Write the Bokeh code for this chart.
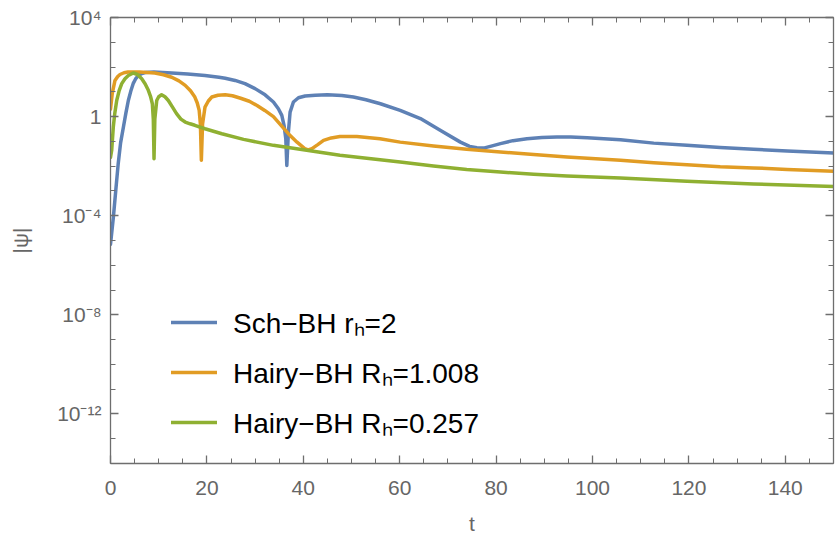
import numpy as np
from bokeh.plotting import figure
from bokeh.models import (Range1d, FixedTicker, LinearAxis, LogAxis, Legend,
                          LegendItem, CustomJSTickFormatter)
from bokeh.embed import file_html
from bokeh.resources import INLINE

# ---------------- data ----------------
series_labels = ["Sch\u2212BH r\u2095=2", "Hairy\u2212BH R\u2095=1.008", "Hairy\u2212BH R\u2095=0.257"]
series_colors = ["#5E81B5", "#E19C24", "#8FB032"]

sch_t = [0.0, 0.6, 1.1, 1.6, 2.1, 2.7, 3.2, 3.7, 4.2, 4.7, 5.2, 5.8, 6.5, 7.2, 9.0,
         12.7, 16.0, 19.6, 22.5, 23.8, 25.85, 27.9, 30.0, 32.07, 33.8, 34.83, 35.54,
         36.0, 36.37, 36.58, 36.91, 37.26, 37.95, 38.99, 40.38, 42.5, 45.0, 48.0,
         50.4, 53.0, 56.0, 60.1, 64.3, 68.4, 72.6, 74.5, 76.0, 77.4, 79.0, 80.9,
         83.5, 86.4, 89.5, 92.6, 95.5, 98.9, 105.8, 112.7, 119.6, 126.5, 133.4,
         140.4, 150.0]
sch_log10_psi = [-5.15, -4.05, -2.97, -1.90, -1.05, -0.40, 0.15, 0.65, 1.02, 1.33,
                 1.52, 1.66, 1.74, 1.78, 1.80, 1.76, 1.72, 1.66, 1.59, 1.55, 1.46,
                 1.33, 1.13, 0.88, 0.59, 0.32, 0.05, -0.35, -0.89, -1.97, -0.62, 0.18,
                 0.59, 0.76, 0.83, 0.86, 0.88, 0.85, 0.79, 0.68, 0.52, 0.25, -0.08,
                 -0.55, -1.03, -1.20, -1.26, -1.27, -1.19, -1.09, -0.97, -0.89, -0.84,
                 -0.82, -0.82, -0.85, -0.93, -1.07, -1.16, -1.25, -1.32, -1.39, -1.47]

hairy1_t = [0.0, 0.37, 0.93, 1.5, 1.97, 2.8, 3.63, 6.0, 9.2, 11.0, 12.7, 14.2, 15.5,
            16.6, 17.5, 18.0, 18.4, 18.65, 18.85, 19.1, 19.6, 20.3, 21.0, 22.3, 23.8,
            25.3, 27.0, 28.8, 30.4, 32.0, 33.8, 34.8, 36.9, 38.7, 40.3, 41.0, 41.8,
            43.0, 44.2, 45.8, 47.6, 51.1, 55.9, 60.1, 67.0, 73.9, 80.9, 87.8, 94.7,
            105.8, 112.7, 119.6, 126.5, 133.4, 140.4, 150.0]
hairy1_log10_psi = [0.3, 0.94, 1.46, 1.62, 1.70, 1.77, 1.80, 1.80, 1.76, 1.69, 1.59,
                    1.44, 1.26, 1.04, 0.79, 0.55, 0.25, -0.3, -1.76, -0.3, 0.38, 0.63,
                    0.79, 0.86, 0.88, 0.84, 0.74, 0.62, 0.45, 0.25, 0.0, -0.22, -0.69,
                    -1.03, -1.29, -1.34, -1.29, -1.13, -0.96, -0.86, -0.80, -0.80, -0.89,
                    -1.03, -1.19, -1.32, -1.43, -1.53, -1.63, -1.76, -1.86, -1.94, -2.02,
                    -2.07, -2.13, -2.21]

hairy2_t = [0.0, 0.25, 0.58, 0.9, 1.29, 1.8, 2.33, 3.0, 3.7, 4.73, 5.6, 6.48, 7.2,
            7.85, 8.3, 8.68, 8.88, 9.03, 9.2, 9.59, 10.0, 10.6, 11.3, 12.0, 12.8,
            13.7, 14.6, 15.5, 16.5, 17.5, 19.6, 23.1, 27.6, 33.8, 40.7, 47.6, 60.1,
            67.0, 73.9, 80.9, 87.8, 94.7, 105.8, 119.6, 133.4, 150.0]
hairy2_log10_psi = [-1.65, -1.36, -0.42, 0.15, 0.65, 1.05, 1.33, 1.53, 1.66, 1.76,
                    1.70, 1.53, 1.32, 1.06, 0.82, 0.52, -0.1, -1.70, -0.1, 0.65, 0.80,
                    0.88, 0.80, 0.65, 0.40, 0.12, -0.10, -0.22, -0.29, -0.35, -0.49,
                    -0.69, -0.92, -1.16, -1.36, -1.56, -1.83, -1.99, -2.13, -2.24,
                    -2.33, -2.40, -2.48, -2.61, -2.72, -2.82]

x_major_ticks = [0, 20, 40, 60, 80, 100, 120, 140]
x_minor_ticks = list(range(0, 151, 5))
y_major_ticks = [1e-12, 1e-8, 1e-4, 1.0, 1e4]
y_minor_ticks = [10.0 ** k for k in range(-14, 5)]

# ---------------- figure ----------------
AX = "#6e6e6e"
FONT = "Liberation Sans"

p = figure(width=840, height=537, x_range=Range1d(0, 150), y_range=Range1d(1e-14, 1e4),
           y_axis_type="log", output_backend="svg", toolbar_location=None,
           min_border_left=110, min_border_right=7, min_border_top=17, min_border_bottom=73)
p.grid.visible = False
p.outline_line_color = None
p.background_fill_color = "white"
p.border_fill_color = "white"

xticker = FixedTicker(ticks=x_major_ticks, minor_ticks=x_minor_ticks)
yticker = FixedTicker(ticks=y_major_ticks, minor_ticks=y_minor_ticks)

sup_formatter = CustomJSTickFormatter(code="""
const e = Math.round(Math.log10(tick));
if (e == 0) { return "1"; }
const sup = {"-":"\u207b","0":"\u2070","1":"\u00b9","2":"\u00b2","3":"\u00b3","4":"\u2074",
             "5":"\u2075","6":"\u2076","7":"\u2077","8":"\u2078","9":"\u2079"};
return "10" + String(e).split("").map(c => sup[c]).join("");
""")
blank_formatter = CustomJSTickFormatter(code='return "";')

def style(ax, labels=True):
    ax.axis_line_color = AX
    ax.axis_line_width = 1.3
    ax.major_tick_line_color = AX
    ax.minor_tick_line_color = AX
    ax.major_tick_line_width = 1.3
    ax.minor_tick_line_width = 1.0
    ax.major_tick_in = 8
    ax.major_tick_out = 0
    ax.minor_tick_in = 5
    ax.minor_tick_out = 0
    if labels:
        ax.major_label_text_font = FONT
        ax.major_label_text_font_size = "21px"
        ax.major_label_text_color = "#666666"
        ax.axis_label_text_font = FONT
        ax.axis_label_text_font_size = "21px"
        ax.axis_label_text_color = "#666666"
        ax.axis_label_text_font_style = "normal"
    else:
        ax.formatter = blank_formatter
        ax.major_label_standoff = 0

# bottom / left axes
xa = p.xaxis[0]
xa.ticker = xticker
xa.axis_label = "t"
style(xa)
xa.major_label_standoff = 17
xa.axis_label_standoff = 14

ya = p.yaxis[0]
ya.ticker = yticker
ya.formatter = sup_formatter
ya.axis_label = "|\u03c8|"
style(ya)
ya.major_label_standoff = 9
ya.axis_label_standoff = 22

# mirrored frame ticks on top and right
top = LinearAxis(ticker=xticker)
style(top, labels=False)
p.add_layout(top, "above")
right = LogAxis(ticker=yticker)
style(right, labels=False)
p.add_layout(right, "right")

# ---------------- lines ----------------
renderers = []
for ts, lg, c in [(sch_t, sch_log10_psi, series_colors[0]),
                  (hairy1_t, hairy1_log10_psi, series_colors[1]),
                  (hairy2_t, hairy2_log10_psi, series_colors[2])]:
    psi = np.power(10.0, np.array(lg))
    r = p.line(ts, psi, line_color=c, line_width=3.5, line_join="round", line_cap="round")
    renderers.append(r)

legend = Legend(items=[LegendItem(label=series_labels[i], renderers=[renderers[i]]) for i in range(3)],
                location=(61, 22), padding=0, margin=0, border_line_color=None,
                background_fill_alpha=0, glyph_width=46, glyph_height=20,
                label_standoff=16, spacing=12, label_text_font=FONT,
                label_text_font_size="28px", label_text_color="black")
p.add_layout(legend)

open("out.html", "w").write(file_html(p, INLINE))
